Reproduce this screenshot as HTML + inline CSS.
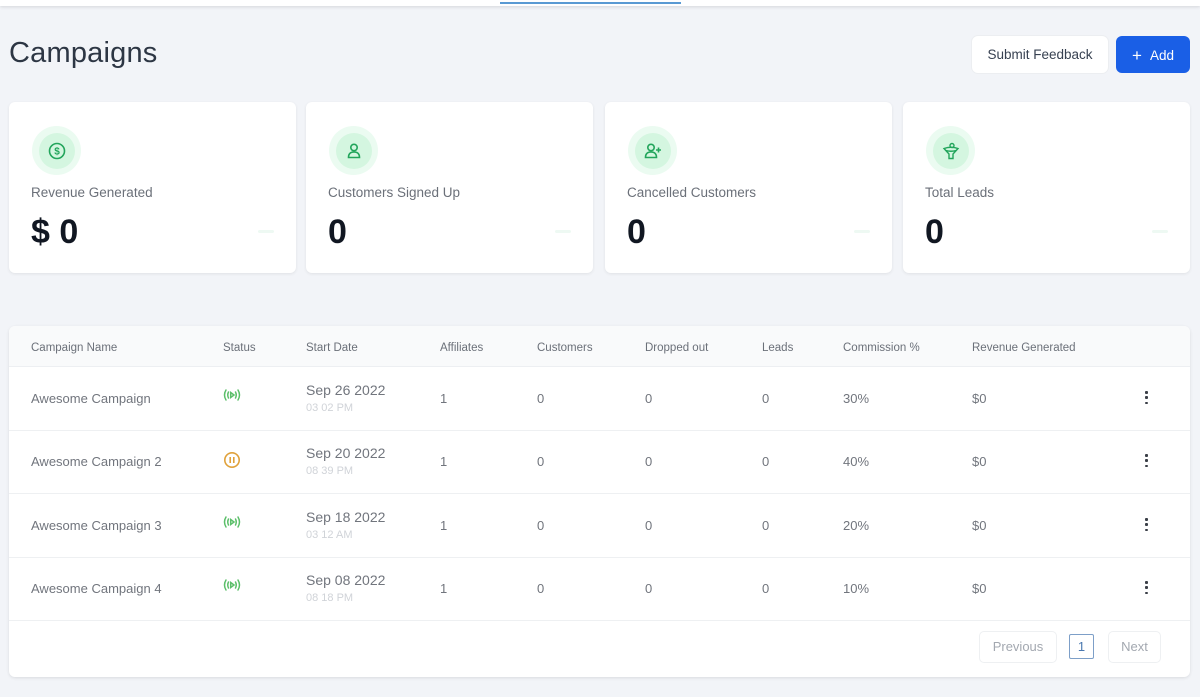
<!DOCTYPE html>
<html><head><meta charset="utf-8">
<style>
*{box-sizing:border-box;margin:0;padding:0}
html,body{width:1200px;height:697px;overflow:hidden}
body{background:#f2f4f8;font-family:"Liberation Sans",Arial,sans-serif;position:relative}
.abs{position:absolute}
.topbar{left:0;top:0;width:1200px;height:6px;background:#fff;box-shadow:0 1px 3px rgba(0,0,0,.12)}
.tabline{left:500px;top:2px;width:181px;height:2px;background:#5a9ad3}
h1{position:absolute;left:9px;top:36px;font-size:29px;font-weight:400;color:#2d3644;line-height:34px;letter-spacing:.2px}
.btn{position:absolute;top:36px;height:37px;border-radius:6px;font-size:13.5px;line-height:37px;text-align:center}
.fb{left:972px;width:136px;background:#fff;color:#374151;box-shadow:0 0 0 1px #eceef1}
.add{left:1116px;width:74px;background:#1a5fe6;color:#fff}
.card{position:absolute;top:102px;width:287px;height:171px;background:#fff;border-radius:6px;box-shadow:0 1px 3px rgba(0,0,0,.08)}
.ic{position:absolute;left:23px;top:24px;width:49px;height:49px;border-radius:50%;background:#ebfbf1}
.ic .in{position:absolute;left:6.5px;top:6.5px;width:36px;height:36px;border-radius:50%;background:#d4f6e0}
.ic svg{position:absolute;left:14.5px;top:14.5px}
.lbl{position:absolute;left:22px;top:83px;font-size:13.5px;color:#6b7079;line-height:16px}
.val{position:absolute;left:22px;top:110px;font-size:34px;font-weight:700;color:#111722;line-height:40px}
.dash{position:absolute;right:22px;top:128px;width:16px;height:3px;border-radius:2px;background:#eef9f3}
.table{position:absolute;left:9px;top:326px;width:1181px;height:351px;background:#fff;border-radius:6px;box-shadow:0 1px 3px rgba(0,0,0,.1)}
.thead{position:absolute;left:0;top:0;width:1181px;height:41px;background:#f9fafb;border-bottom:1px solid #edeff2;border-radius:6px 6px 0 0}
.th{position:absolute;top:15px;font-size:11.5px;color:#6b7079;line-height:14px}
.row{position:absolute;left:0;width:1181px;height:64px;border-bottom:1px solid #eef0f2}
.td{position:absolute;font-size:13px;color:#71757d;line-height:16px}
.d1{position:absolute;font-size:14px;color:#71757d;line-height:16px}
.d2{position:absolute;font-size:11px;color:#d0d3d8;line-height:13px}
.dots{position:absolute;left:1136px;width:3px}
.dots i{display:block;width:2.6px;height:2.6px;background:#3a3f47;border-radius:1px;margin-bottom:2.8px}
.pg{position:absolute;font-size:13px;line-height:30px;text-align:center;color:#a3a8b0;border:1px solid #eef0f2;border-radius:5px}
</style></head><body>
<div class="abs topbar"></div>
<div class="abs tabline"></div>
<h1>Campaigns</h1>
<div class="btn fb">Submit Feedback</div>
<div class="btn add"><span style="font-size:17px;font-weight:300;position:relative;top:1px;margin-right:8px">+</span>Add</div>

<div class="card" style="left:9px">
  <div class="ic"><div class="in"></div>
  <svg width="20" height="20" viewBox="0 0 20 20" fill="none" stroke="#22a55b" stroke-width="1.6"><circle cx="10" cy="10" r="7.5"/><text x="10" y="13.6" font-size="10" text-anchor="middle" fill="#22a55b" stroke="none" font-family="Liberation Sans" font-weight="700">$</text></svg></div>
  <div class="lbl">Revenue Generated</div>
  <div class="val">$ 0</div>
  <div class="dash"></div>
</div>
<div class="card" style="left:306px">
  <div class="ic"><div class="in"></div>
  <svg width="20" height="20" viewBox="0 0 20 20" fill="none" stroke="#22a55b" stroke-width="1.6"><circle cx="10" cy="6.5" r="3.2"/><path d="M4.5 16.5 Q4.5 11 10 11 Q15.5 11 15.5 16.5 Z"/></svg></div>
  <div class="lbl">Customers Signed Up</div>
  <div class="val">0</div>
  <div class="dash"></div>
</div>
<div class="card" style="left:605px">
  <div class="ic"><div class="in"></div>
  <svg width="20" height="20" viewBox="0 0 20 20" fill="none" stroke="#22a55b" stroke-width="1.6"><circle cx="8" cy="6.5" r="3.2"/><path d="M2.5 16.5 Q2.5 11 8 11 Q13.5 11 13.5 16.5 Z"/><path d="M15.5 6.5v5M13 9h5"/></svg></div>
  <div class="lbl">Cancelled Customers</div>
  <div class="val">0</div>
  <div class="dash"></div>
</div>
<div class="card" style="left:903px">
  <div class="ic"><div class="in"></div>
  <svg width="20" height="20" viewBox="0 0 20 20" fill="none" stroke="#22a55b" stroke-width="1.4"><circle cx="11" cy="4.5" r="2"/><path d="M3 7.5 Q10 5 17 7.5 L12 13 L12 17.5 L8 17.5 L8 13 Z"/><path d="M5 9.5 Q10 11 15 9.5"/></svg></div>
  <div class="lbl">Total Leads</div>
  <div class="val">0</div>
  <div class="dash"></div>
</div>

<div class="table">
  <div class="thead">
    <div class="th" style="left:22px">Campaign Name</div>
    <div class="th" style="left:214px">Status</div>
    <div class="th" style="left:297px">Start Date</div>
    <div class="th" style="left:431px">Affiliates</div>
    <div class="th" style="left:528px">Customers</div>
    <div class="th" style="left:636px">Dropped out</div>
    <div class="th" style="left:753px">Leads</div>
    <div class="th" style="left:834px">Commission %</div>
    <div class="th" style="left:963px">Revenue Generated</div>
  </div>

  <div class="row" style="top:41px">
    <div class="td" style="left:22px;top:24px">Awesome Campaign</div>
    <svg class="abs" style="left:213px;top:20px" width="20" height="16" viewBox="0 0 20 16" fill="none" stroke="#5cbf6a" stroke-width="1.5" stroke-linecap="round"><path d="M4 3 Q1 8 4 13"/><path d="M6.5 5 Q5 8 6.5 11"/><path d="M16 3 Q19 8 16 13"/><path d="M13.5 5 Q15 8 13.5 11"/><path d="M8.7 5.5 L12 8 L8.7 10.5 Z"/></svg>
    <div class="d1" style="left:297px;top:15px">Sep 26 2022</div>
    <div class="d2" style="left:297px;top:35px">03 02 PM</div>
    <div class="td" style="left:431px;top:24px">1</div>
    <div class="td" style="left:528px;top:24px">0</div>
    <div class="td" style="left:636px;top:24px">0</div>
    <div class="td" style="left:753px;top:24px">0</div>
    <div class="td" style="left:834px;top:24px">30%</div>
    <div class="td" style="left:963px;top:24px">$0</div>
    <div class="dots" style="top:24px"><i></i><i></i><i></i></div>
  </div>
  <div class="row" style="top:104px">
    <div class="td" style="left:22px;top:24px">Awesome Campaign 2</div>
    <svg class="abs" style="left:214px;top:21px" width="18" height="18" viewBox="0 0 18 18" fill="none" stroke="#e0a23c" stroke-width="1.6"><circle cx="9" cy="9" r="7.2"/><path d="M7.2 6v6M10.8 6v6"/></svg>
    <div class="d1" style="left:297px;top:15px">Sep 20 2022</div>
    <div class="d2" style="left:297px;top:35px">08 39 PM</div>
    <div class="td" style="left:431px;top:24px">1</div>
    <div class="td" style="left:528px;top:24px">0</div>
    <div class="td" style="left:636px;top:24px">0</div>
    <div class="td" style="left:753px;top:24px">0</div>
    <div class="td" style="left:834px;top:24px">40%</div>
    <div class="td" style="left:963px;top:24px">$0</div>
    <div class="dots" style="top:24px"><i></i><i></i><i></i></div>
  </div>
  <div class="row" style="top:168px">
    <div class="td" style="left:22px;top:24px">Awesome Campaign 3</div>
    <svg class="abs" style="left:213px;top:20px" width="20" height="16" viewBox="0 0 20 16" fill="none" stroke="#5cbf6a" stroke-width="1.5" stroke-linecap="round"><path d="M4 3 Q1 8 4 13"/><path d="M6.5 5 Q5 8 6.5 11"/><path d="M16 3 Q19 8 16 13"/><path d="M13.5 5 Q15 8 13.5 11"/><path d="M8.7 5.5 L12 8 L8.7 10.5 Z"/></svg>
    <div class="d1" style="left:297px;top:15px">Sep 18 2022</div>
    <div class="d2" style="left:297px;top:35px">03 12 AM</div>
    <div class="td" style="left:431px;top:24px">1</div>
    <div class="td" style="left:528px;top:24px">0</div>
    <div class="td" style="left:636px;top:24px">0</div>
    <div class="td" style="left:753px;top:24px">0</div>
    <div class="td" style="left:834px;top:24px">20%</div>
    <div class="td" style="left:963px;top:24px">$0</div>
    <div class="dots" style="top:24px"><i></i><i></i><i></i></div>
  </div>
  <div class="row" style="top:231px">
    <div class="td" style="left:22px;top:24px">Awesome Campaign 4</div>
    <svg class="abs" style="left:213px;top:20px" width="20" height="16" viewBox="0 0 20 16" fill="none" stroke="#5cbf6a" stroke-width="1.5" stroke-linecap="round"><path d="M4 3 Q1 8 4 13"/><path d="M6.5 5 Q5 8 6.5 11"/><path d="M16 3 Q19 8 16 13"/><path d="M13.5 5 Q15 8 13.5 11"/><path d="M8.7 5.5 L12 8 L8.7 10.5 Z"/></svg>
    <div class="d1" style="left:297px;top:15px">Sep 08 2022</div>
    <div class="d2" style="left:297px;top:35px">08 18 PM</div>
    <div class="td" style="left:431px;top:24px">1</div>
    <div class="td" style="left:528px;top:24px">0</div>
    <div class="td" style="left:636px;top:24px">0</div>
    <div class="td" style="left:753px;top:24px">0</div>
    <div class="td" style="left:834px;top:24px">10%</div>
    <div class="td" style="left:963px;top:24px">$0</div>
    <div class="dots" style="top:24px"><i></i><i></i><i></i></div>
  </div>

  <div class="pg" style="left:970px;top:305px;width:78px;height:32px">Previous</div>
  <div class="pg" style="left:1060px;top:308px;width:25px;height:25px;line-height:23px;border-color:#7d9fc8;color:#4a78b0;border-radius:2px">1</div>
  <div class="pg" style="left:1099px;top:305px;width:53px;height:32px">Next</div>
</div>
</body></html>
